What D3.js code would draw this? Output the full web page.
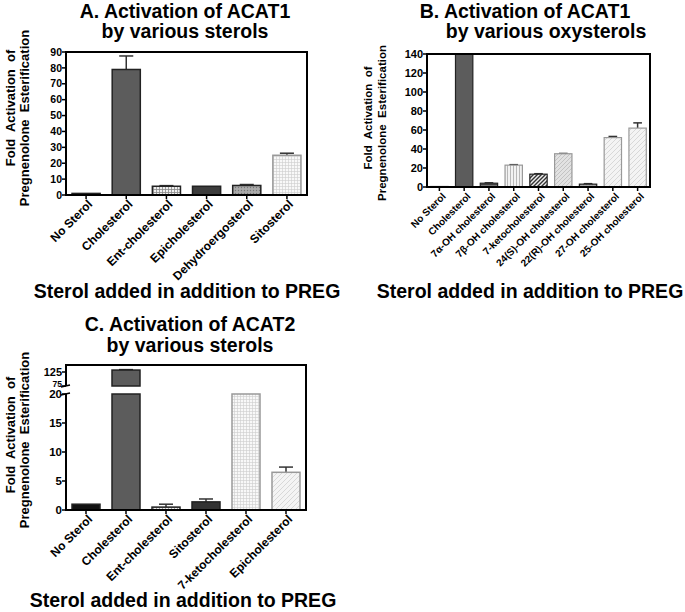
<!DOCTYPE html>
<html>
<head>
<meta charset="utf-8">
<script src="https://cdn.jsdelivr.net/npm/d3@7"></script>
<style>
  body { margin: 0; background: #fff; }
  svg { display: block; font-family: "Liberation Sans", Arial, sans-serif; font-weight: bold; }
</style>
</head>
<body>
<svg id="chart" width="685" height="612"></svg>
<script>
// ---- data ----
var catsA = ['No Sterol', 'Cholesterol', 'Ent-cholesterol', 'Epicholesterol', 'Dehydroergosterol', 'Sitosterol'];
var valsA = [1, 79, 5.5, 5.5, 6, 25];
var errA = [0, 8.5, 0.4, 0, 0.6, 1.3];
var ticksA = [0, 10, 20, 30, 40, 50, 60, 70, 80, 90];

var catsB = ['No Sterol', 'Cholesterol', '7\u03b1-OH cholesterol', '7\u03b2-OH cholesterol', '7-ketocholesterol',
  '24(S)-OH cholesterol', '22(R)-OH cholesterol', '27-OH cholesterol', '25-OH cholesterol'];
var valsB = [0.5, 150, 4, 23, 13.5, 35, 3, 52, 62];
var errB = [0, 0, 0.4, 0.5, 0.5, 0.3, 0.5, 1.2, 5.5];
var ticksB = [0, 20, 40, 60, 80, 100, 120, 140];

var catsC = ['No Sterol', 'Cholesterol', 'Ent-cholesterol', 'Sitosterol', '7-ketocholesterol', 'Epicholesterol'];
var valsC = [1, 132, 0.5, 1.4, 40, 6.5];
var errC = [0, 1.5, 0.5, 0.5, 0, 0.9];
var ticksCLow = [0, 5, 10, 15, 20];
var ticksCHigh = [75, 125];

var fillsA = ['#444', '#5c5c5c', 'url(#grid)', '#3c3c3c', 'url(#dots)', 'url(#finegrid)'];
var fillsB = ['#fff', '#5c5c5c', 'url(#dense)', 'url(#vlines)', 'url(#darkdiag)', 'url(#diag)', 'url(#dots)', 'url(#lightdiag)', 'url(#lightdiag)'];
var fillsC = ['#111', '#5c5c5c', 'url(#grid)', '#333', 'url(#finegrid)', 'url(#lightdiag)'];

var svg = d3.select('#chart');
var defs = svg.append('defs');

function pattern(id, size, bg, draw) {
  var p = defs.append('pattern').attr('id', id).attr('patternUnits', 'userSpaceOnUse')
    .attr('width', size).attr('height', size);
  p.append('rect').attr('width', size).attr('height', size).attr('fill', bg);
  draw(p);
}
pattern('grid', 3, '#eee', function (p) {
  p.append('path').attr('d', 'M0,0.5H3M0.5,0V3').attr('stroke', '#888').attr('stroke-width', 0.8);
});
pattern('finegrid', 3, '#f8f8f8', function (p) {
  p.append('path').attr('d', 'M0,0.5H3M0.5,0V3').attr('stroke', '#ccc').attr('stroke-width', 0.6);
});
pattern('dots', 3, '#aaa', function (p) {
  p.append('circle').attr('cx', 1.5).attr('cy', 1.5).attr('r', 0.7).attr('fill', '#777');
});
pattern('dense', 2, '#777', function (p) {
  p.append('path').attr('d', 'M0,0.5H2').attr('stroke', '#333').attr('stroke-width', 0.8);
});
pattern('vlines', 3, '#f2f2f2', function (p) {
  p.append('path').attr('d', 'M0.5,0V3').attr('stroke', '#aaa').attr('stroke-width', 0.8);
});
pattern('darkdiag', 4, '#eee', function (p) {
  p.append('path').attr('d', 'M-1,1L1,-1M0,4L4,0M3,5L5,3').attr('stroke', '#333').attr('stroke-width', 1.4);
});
pattern('diag', 4, '#e2e2e2', function (p) {
  p.append('path').attr('d', 'M-1,1L1,-1M0,4L4,0M3,5L5,3').attr('stroke', '#bbb').attr('stroke-width', 0.8);
});
pattern('lightdiag', 5, '#f4f4f4', function (p) {
  p.append('path').attr('d', 'M-1,1L1,-1M0,5L5,0M4,6L6,4').attr('stroke', '#d0d0d0').attr('stroke-width', 0.8);
});

function title(lines) {
  lines.forEach(function (l) {
    svg.append('text').attr('x', l[0]).attr('y', l[1]).attr('text-anchor', 'middle')
      .style('font-size', l[3] + 'px').text(l[2]);
  });
}

function yLabel(x1, x2, cy1, cy2, size) {
  svg.append('text').attr('transform', 'translate(' + x1 + ',' + cy1 + ') rotate(-90)')
    .attr('text-anchor', 'middle').style('font-size', size + 'px').style('white-space', 'pre')
    .text('Fold  Activation  of');
  svg.append('text').attr('transform', 'translate(' + x2 + ',' + cy2 + ') rotate(-90)')
    .attr('text-anchor', 'middle').style('font-size', size + 'px').style('white-space', 'pre')
    .text('Pregnenolone  Esterification');
}

function catLabels(x, cats, y0, size) {
  var g = svg.append('g');
  cats.forEach(function (c) {
    var cx = x(c) + x.bandwidth() / 2;
    g.append('line').attr('x1', cx).attr('x2', cx).attr('y1', y0).attr('y2', y0 + 4)
      .attr('stroke', '#000').attr('stroke-width', 1.5);
    g.append('text').attr('text-anchor', 'end')
      .attr('transform', 'translate(' + (cx + 7) + ',' + (y0 + 10) + ') rotate(-45)')
      .style('font-size', size + 'px').text(c);
  });
}

function yTicks(y, ticks, x0, size, dy) {
  ticks.forEach(function (t) {
    svg.append('line').attr('x1', x0 - 4).attr('x2', x0).attr('y1', y(t)).attr('y2', y(t))
      .attr('stroke', '#000').attr('stroke-width', 1.5);
    svg.append('text').attr('x', x0 - 4).attr('y', y(t)).attr('dy', dy || '0.35em')
      .attr('text-anchor', 'end').style('font-size', size + 'px').text(t);
  });
}

function bars(x, y, cats, vals, errs, fills, strokeW) {
  var g = svg.append('g');
  cats.forEach(function (c, i) {
    var v = Math.min(vals[i], y.domain()[1]);
    var bx = x(c), bw = x.bandwidth();
    var light = /diag|finegrid|vlines/.test(fills[i]) && fills[i] !== 'url(#darkdiag)';
    if (errs[i] > 0) {
      var cx = bx + bw / 2;
      g.append('line').attr('x1', cx).attr('x2', cx).attr('y1', y(v)).attr('y2', y(v + errs[i]))
        .attr('stroke', '#333').attr('stroke-width', 1.5);
      g.append('line').attr('x1', cx - bw / 4).attr('x2', cx + bw / 4)
        .attr('y1', y(v + errs[i])).attr('y2', y(v + errs[i]))
        .attr('stroke', '#333').attr('stroke-width', 1.5);
    }
    g.append('rect').attr('x', bx).attr('width', bw)
      .attr('y', y(v)).attr('height', y(0) - y(v))
      .attr('fill', fills[i]).attr('stroke', light ? '#999' : '#222').attr('stroke-width', strokeW);
  });
}

function frame(x0, x1, yTop, yBot) {
  svg.append('path').attr('d', 'M' + x0 + ',' + yTop + 'H' + x1 + 'V' + yBot + 'H' + x0 + 'Z')
    .attr('fill', 'none').attr('stroke', '#000').attr('stroke-width', 2);
}

// ---- Panel A ----
var xA = d3.scaleBand().domain(catsA).range([66, 307]).paddingInner(0.3).paddingOuter(0.15);
var yA = d3.scaleLinear().domain([0, 90]).range([195, 52]);
bars(xA, yA, catsA, valsA, errA, fillsA, 1.5);
frame(66, 307, yA(90), yA(0));
yTicks(yA, ticksA, 66, 10.5);
catLabels(xA, catsA, yA(0), 12);
title([[185, 18, 'A. Activation of ACAT1', 19.5], [185, 38, 'by various sterols', 19.5],
  [187, 298, 'Sterol added in addition to PREG', 19.5]]);
yLabel(15, 29, 108, 118, 13);

// ---- Panel B ----
var xB = d3.scaleBand().domain(catsB).range([427, 650]).paddingInner(0.3).paddingOuter(0.15);
var yB = d3.scaleLinear().domain([0, 140]).range([187, 54]);
bars(xB, yB, catsB, valsB, errB, fillsB, 1.2);
frame(427, 650, yB(140), yB(0));
yTicks(yB, ticksB, 427, 11);
catLabels(xB, catsB, yB(0), 10);
title([[525, 18, 'B. Activation of ACAT1', 19.5], [546, 38, 'by various oxysterols', 19.5],
  [530, 298, 'Sterol added in addition to PREG', 19.5]]);
yLabel(372, 386, 118, 123, 11.5);

// ---- Panel C (broken axis) ----
var xC = d3.scaleBand().domain(catsC).range([66, 306]).paddingInner(0.3).paddingOuter(0.15);
var yCLow = d3.scaleLinear().domain([0, 20]).range([510, 394]);
var yCHigh = d3.scaleLinear().domain([75, 150]).range([386, 365]);

// lower segment
bars(xC, yCLow, catsC, valsC, catsC.map(function (c, i) { return valsC[i] <= 20 ? errC[i] : 0; }), fillsC, 1.5);
// upper segment (only bars above 75)
(function () {
  var g = svg.append('g');
  catsC.forEach(function (c, i) {
    if (valsC[i] <= 75) return;
    var bx = xC(c), bw = xC.bandwidth(), cx = bx + bw / 2;
    var top = yCHigh(valsC[i] + errC[i]);
    g.append('line').attr('x1', cx).attr('x2', cx).attr('y1', yCHigh(valsC[i])).attr('y2', top)
      .attr('stroke', '#222').attr('stroke-width', 1.5);
    g.append('line').attr('x1', cx - bw / 4).attr('x2', cx + bw / 4).attr('y1', top).attr('y2', top)
      .attr('stroke', '#222').attr('stroke-width', 1.5);
    g.append('rect').attr('x', bx).attr('width', bw)
      .attr('y', yCHigh(valsC[i])).attr('height', yCHigh(75) - yCHigh(valsC[i]))
      .attr('fill', fillsC[i]).attr('stroke', '#222').attr('stroke-width', 1.5);
  });
})();
// axes with break
svg.append('path')
  .attr('d', 'M66,' + yCHigh(75) + 'V' + yCHigh(150) + 'H306V' + yCLow(0) + 'H66V' + yCLow(20))
  .attr('fill', 'none').attr('stroke', '#000').attr('stroke-width', 2);
svg.append('path').attr('d', 'M61,' + (yCHigh(75) + 1) + 'L70,' + (yCHigh(75) - 1) +
  'M61,' + (yCLow(20) + 1) + 'L70,' + (yCLow(20) - 1))
  .attr('stroke', '#000').attr('stroke-width', 1.5);
yTicks(yCLow, ticksCLow, 66, 11.5);
yTicks(yCHigh, [ticksCHigh[1]], 66, 11);
yTicks(yCHigh, [ticksCHigh[0]], 66, 8.5, '0.1em');
catLabels(xC, catsC, yCLow(0), 12);
title([[190, 331, 'C. Activation of ACAT2', 19.5], [190, 352, 'by various sterols', 19.5],
  [183, 607, 'Sterol added in addition to PREG', 19.5]]);
yLabel(15, 29, 435, 440, 13);
</script>
</body>
</html>
